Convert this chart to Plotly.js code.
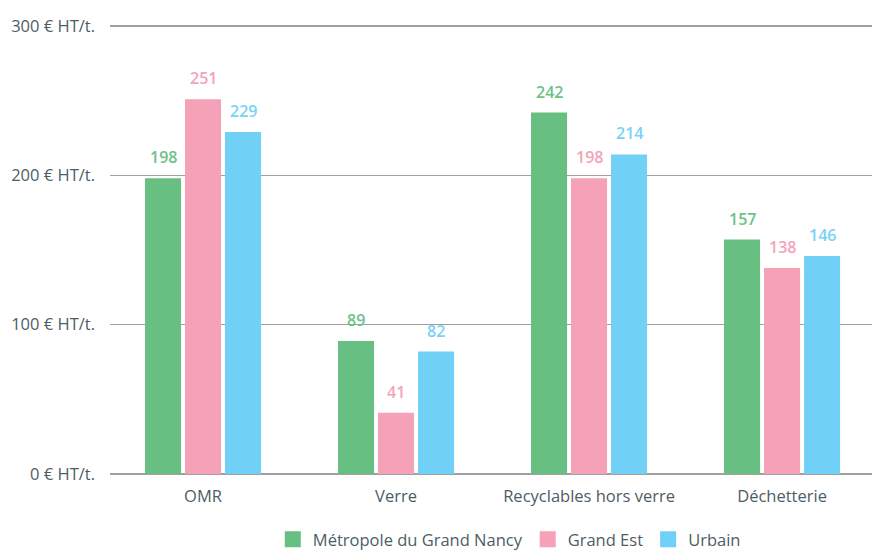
<!DOCTYPE html>
<html><head><meta charset="utf-8">
<script src="https://cdn.plot.ly/plotly-3.0.1.min.js"></script>
<style>html,body{margin:0;padding:0;background:#fff}#c{width:872px;height:553px}</style>
</head><body><div id="c"></div>
<script>
const categories = ["OMR", "Verre", "Recyclables hors verre", "Déchetterie"];
const seriesNames = ["Métropole du Grand Nancy", "Grand Est", "Urbain"];
const nancy = [198, 89, 242, 157];
const grandEst = [251, 41, 198, 138];
const urbain = [229, 82, 214, 146];
const tickVals = [0, 100, 200, 300];
const tickText = ["0 € HT/t.", "100 € HT/t.", "200 € HT/t.", "300 € HT/t."];

const colors = ["#67c081", "#f5a1b7", "#70d0f6"];
const labelColors = ["#6cc287", "#f4a3b8", "#78d3f6"];
const values = [nancy, grandEst, urbain];
const font = "'Open Sans', Roboto, sans-serif";
const textColor = "#4d5d66";

const traces = values.map((v, i) => ({
  type: "bar", x: categories, y: v, name: seriesNames[i],
  marker: {color: colors[i]}, hoverinfo: "none", showlegend: false
}));
seriesNames.forEach((n, i) => {
  traces.push({type: "scatter", mode: "markers", x: [null], y: [null], name: n,
    marker: {symbol: "square", size: 17, color: colors[i]}, hoverinfo: "none"});
});

const annotations = [];
values.forEach((v, i) => {
  v.forEach((val, j) => {
    annotations.push({
      x: categories[j], y: val, xref: "x", yref: "y",
      text: String(val), showarrow: false,
      xshift: (i - 1) * 40, yanchor: "bottom", yshift: 8,
      font: {family: font, size: 16, color: labelColors[i], weight: 600}
    });
  });
});

const layout = {
  width: 872, height: 553,
  margin: {l: 110, r: 0, t: 23, b: 76, autoexpand: false},
  paper_bgcolor: "#fff", plot_bgcolor: "#fff",
  barmode: "group", bargap: 0.378, bargroupgap: 0.1,
  showlegend: true,
  legend: {orientation: "h", x: 0.524, xanchor: "center", y: -0.099, yanchor: "top",
    font: {family: font, size: 16.5, color: textColor}, itemwidth: 30, traceorder: "normal",
    tracegroupgap: 0},
  xaxis: {range: [-0.482, 3.466], showgrid: false, zeroline: false, showline: false,
    ticks: "", automargin: false, ticklabelstandoff: 7,
    tickfont: {family: font, size: 16.5, color: textColor}},
  yaxis: {range: [-2, 302], tickvals: tickVals, ticktext: tickText, showgrid: true,
    gridcolor: "#a0a0a0", gridwidth: 1.5, zeroline: false, showline: false, ticks: "",
    ticklabelstandoff: 14, automargin: false,
    tickfont: {family: font, size: 16.5, color: textColor}},
  annotations: annotations
};
Plotly.newPlot("c", traces, layout, {displayModeBar: false, staticPlot: true});
</script></body></html>
